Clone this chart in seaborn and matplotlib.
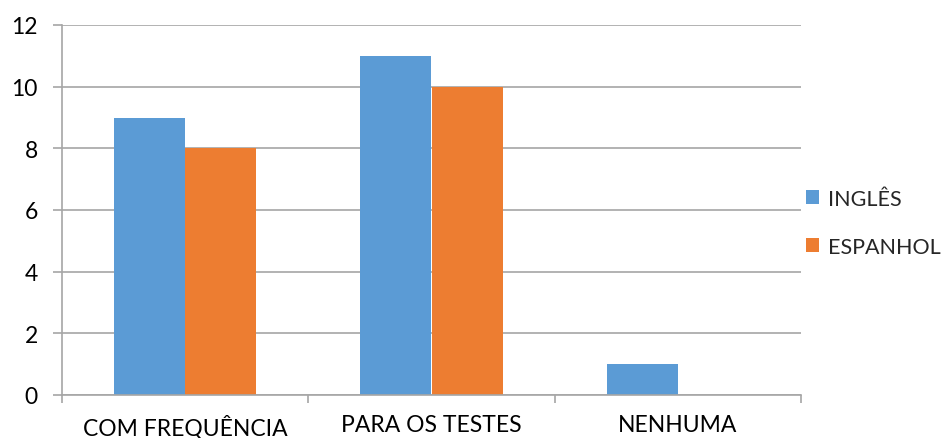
import matplotlib
matplotlib.use("Agg")
import matplotlib.pyplot as plt
import seaborn as sns
import pandas as pd
from matplotlib.ticker import FixedLocator

categories = ["COM FREQUÊNCIA", "PARA OS TESTES", "NENHUMA"]
series_names = ["INGLÊS", "ESPANHOL"]
ingles = [9, 11, 1]
espanhol = [8, 10, 0]
colors = ["#5B9BD5", "#ED7D31"]

df = pd.DataFrame({
    "cat": categories * 2,
    "serie": [series_names[0]] * 3 + [series_names[1]] * 3,
    "val": ingles + espanhol,
})

sns.set_style("white")
plt.rcParams["font.family"] = ["Lato", "DejaVu Sans"]

fig = plt.figure(figsize=(9.48, 4.39), dpi=100)
ax = fig.add_axes([62 / 948, 1 - 396 / 439, (801 - 62) / 948, (396 - 26) / 439])

sns.barplot(data=df, x="cat", y="val", hue="serie", palette=colors,
            width=0.577, dodge=True, ax=ax, saturation=1, linewidth=0,
            order=categories, hue_order=series_names)

grid_c = "#A6A6A6"
fs = 16.5
ax.set_ylim(0, 12)
ax.set_xlim(-0.5, 2.5)
ax.set_yticks(range(0, 13, 2))
ax.yaxis.grid(True, color=grid_c, linewidth=1.2)
ax.set_axisbelow(True)
for s in ["top", "right"]:
    ax.spines[s].set_visible(False)
for s in ["left", "bottom"]:
    ax.spines[s].set_color(grid_c)
    ax.spines[s].set_linewidth(1.2)

ax.set_xlabel("")
ax.set_ylabel("")
ax.tick_params(axis="y", length=6.5, width=1.2, color=grid_c, pad=11,
               labelsize=fs, labelcolor="black", left=True)
ax.tick_params(axis="x", which="major", length=0, pad=14, labelsize=fs,
               labelcolor="black")
ax.xaxis.set_minor_locator(FixedLocator([-0.5, 0.5, 1.5, 2.5]))
ax.tick_params(axis="x", which="minor", length=6, width=1.2, color=grid_c,
               bottom=True)

leg = ax.legend(loc="center left", bbox_to_anchor=(806 / 948, 1 - 224 / 439),
                bbox_transform=fig.transFigure, frameon=False,
                fontsize=15.5, handlelength=0.62, handleheight=0.62,
                handletextpad=0.4, labelspacing=1.3, borderaxespad=0,
                borderpad=0)

fig.savefig("out.png", dpi=100)
